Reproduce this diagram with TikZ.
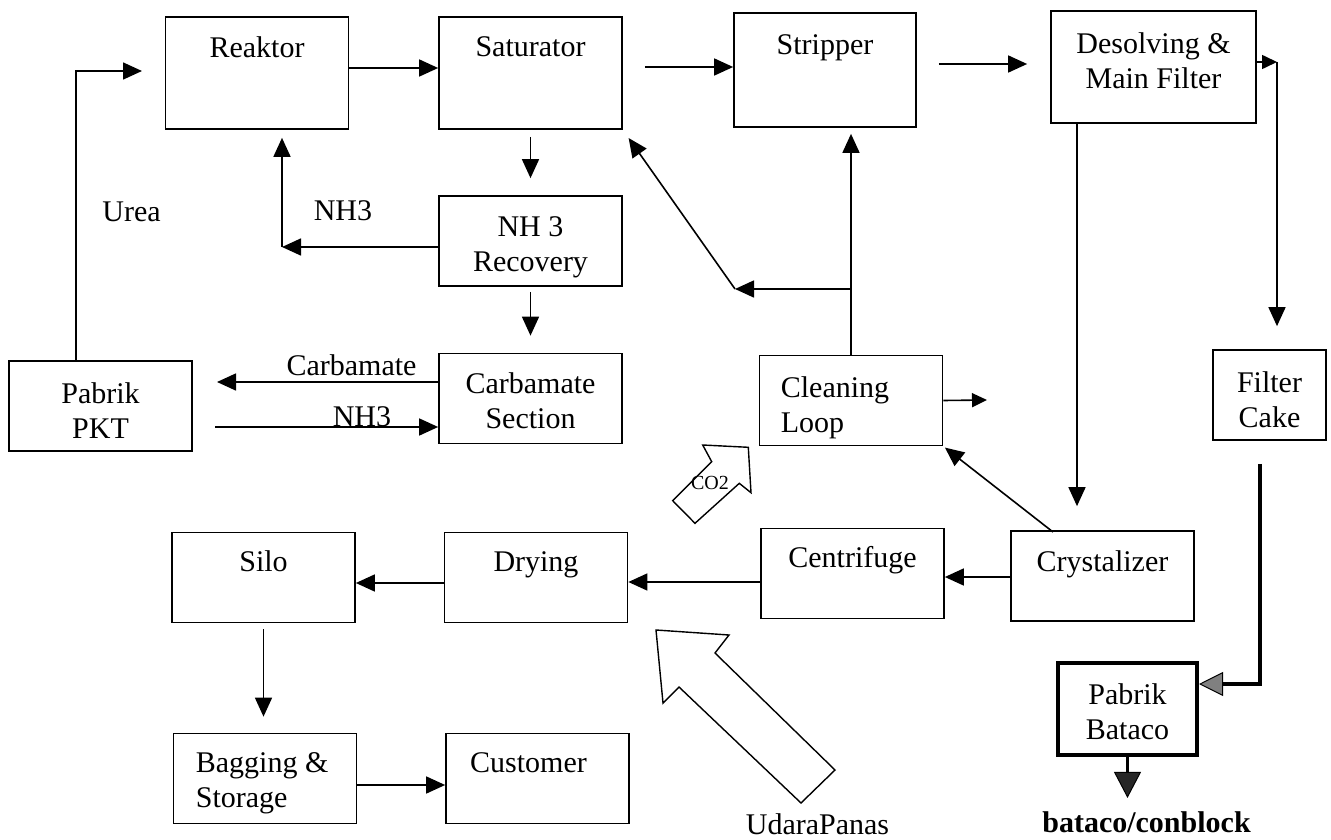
\documentclass[tikz,border=0pt]{standalone}
\usepackage{fontspec}
\setmainfont{Liberation Serif}
\usetikzlibrary{positioning}
\usetikzlibrary{calc}
\usetikzlibrary{arrows.meta}

\begin{document}
\begin{tikzpicture}[
      , x=1pt, y=-1pt
      , unitbox/.style={draw, line width=1.7pt, minimum width=183pt, minimum height=90pt, inner sep=0pt}
      , tall/.style={minimum height=112pt}
      , boxtext/.style={anchor=north, align=center, inner sep=0pt, yshift=-20pt, font=\fontsize{30}{35}\selectfont}
      , leftcap/.style={boxtext, anchor=north west, align=left, xshift=22pt}
      , lbl/.style={anchor=base, inner sep=0pt, font=\fontsize{30}{35}\selectfont}
      , flow/.style={->, line width=1.6pt}
      , small/.style={-{Triangle[length=15pt, width=14pt]}}
      , greytip/.style={-{Triangle[length=24pt, width=24pt, fill=gray, line width=1pt]}}
      , darktip/.style={-{Triangle[length=26pt, width=27pt, fill=black!85, line width=1pt]}}
      , on grid
      ]

      \tikzset{>={Triangle[length=19pt, width=17pt]}}
      \useasboundingbox (0,0) rectangle (1331,840);

      % top row
      \node[unitbox, tall, label={[boxtext]north:Reaktor}] (reaktor) at (257,73) {};
      \node[unitbox, tall, right = 273.5pt of reaktor, label={[boxtext]north:Saturator}] (saturator) {};
      \node[unitbox, tall, minimum width=182pt, minimum height=114pt, label={[boxtext, yshift=-2pt]north:Stripper}] (stripper) at (825,70) {};
      \node[unitbox, tall, minimum width=205pt, label={[boxtext, yshift=-2pt]north:Desolving \&\\Main Filter}] (desolving) at (1153.5,67) {};

      \node[unitbox, below = 168pt of saturator, label={[boxtext, yshift=-1pt]north:NH 3\\Recovery}] (nh3rec) {};
      \node[unitbox, below = 157.5pt of nh3rec, label={[boxtext]north:Carbamate\\Section}] (carbamate) {};
      \node[unitbox, label={[boxtext, yshift=-2pt]north:Pabrik\\PKT}] (pkt) at (100.5,406) {};
      \node[unitbox, label={[leftcap, yshift=-2pt]north west:Cleaning\\Loop}] (cleaning) at (851,400.5) {};
      \node[unitbox, minimum width=113pt, label={[boxtext, yshift=-2pt]north:Filter\\Cake}] (filtercake) at (1269.5,395) {};

      % bottom rows
      \node[unitbox, label={[boxtext, yshift=1pt]north:Silo}] (silo) at (263.5,577.5) {};
      \node[unitbox, right = 272.5pt of silo, label={[boxtext]north:Drying}] (drying) {};
      \node[unitbox, label={[boxtext, yshift=1pt]north:Centrifuge}] (centrifuge) at (852.5,573.5) {};
      \node[unitbox, label={[boxtext]north:Crystalizer}] (crystalizer) at (1102.5,576) {};
      \node[unitbox, label={[leftcap, xshift=1pt]north west:Bagging \&\\Storage}] (bagging) at (265,778.5) {};
      \node[unitbox, right = 272.5pt of bagging, label={[boxtext, xshift=-9pt]north:Customer}] (customer) {};
      \node[unitbox, line width=4pt, minimum width=139pt, minimum height=92pt, label={[boxtext, yshift=-2pt, align=center]north:Pabrik\\Bataco}] (bataco) at (1127.5,709) {};

      \coordinate (react-level) at (0,68);
      \coordinate (strip-level) at (0,67);
      \coordinate (dmf-level) at (0,64);
      \coordinate (cf-level) at (0,577);
      \coordinate (dry-level) at (0,582);
      \coordinate (silo-level) at (0,583);
      \coordinate (bag-level) at (0,785);

      \draw[flow] (reaktor.east |- react-level) -- (saturator.west |- react-level);
      \draw[flow, shorten <=22pt] (saturator.east |- strip-level) -- (stripper.west |- strip-level);
      \draw[flow, shorten <=22pt, shorten >=23pt] (stripper.east |- dmf-level) -- (desolving.west |- dmf-level);

      \coordinate (urea-top) at (76,71);
      \coordinate (urea-end) at (142,71);
      \draw[flow] (pkt.north -| urea-top) -- (urea-top) -- (urea-end);
      \node[lbl] (urea-lbl) at (131.5,222) {Urea};

      \coordinate (dmf-turn) at (1277,62);
      \draw[flow, small] (desolving.east |- dmf-turn) -- (dmf-turn);
      \draw[flow, shorten >=23pt] (dmf-turn) -- (dmf-turn |- filtercake.north);

      \draw[flow, shorten <=7pt, shorten >=17pt] (saturator.south) -- (nh3rec.north);
      \draw[flow, shorten <=5pt, shorten >=17pt] (nh3rec.south) -- (carbamate.north);

      \coordinate (nh3-turn) at (282,247);
      \draw[flow] (nh3rec.west |- nh3-turn) -- (nh3-turn);
      \draw[flow, shorten >=8pt] (nh3-turn) -- (nh3-turn |- reaktor.south);
      \node[lbl] (nh3-lbl) at (343,220) {NH3};

      \coordinate (carb-out) at (217,382);
      \draw[flow] (carbamate.west |- carb-out) -- (carb-out);
      \node[lbl] (carb-lbl) at (351.5,375) {Carbamate};
      \coordinate (nh3-in) at (215,427);
      \draw[flow] (nh3-in) -- (nh3-in -| carbamate.west);
      \node[lbl] (nh3b-lbl) at (362,426) {NH3};

      \coordinate (cl-turn) at (735,289);
      \draw[flow, shorten >=6pt] (cleaning.north) -- (cleaning.north |- stripper.south);
      \draw[flow] (cleaning.north |- cl-turn) -- (cl-turn);
      \draw[flow, shorten >=10pt] (cl-turn) -- (saturator.south east);
      \coordinate (cl-out) at (987,400);
      \draw[flow, small] (cleaning.east) -- (cl-out);

      \coordinate (dmf-drop) at (1077,123);
      \draw[flow, shorten >=24pt] (dmf-drop) -- (dmf-drop |- crystalizer.north);
      \coordinate (cr-top) at (1053,532);
      \draw[flow, shorten >=2pt] (cr-top) -- (cleaning.south east);

      \draw[flow] (crystalizer.west |- cf-level) -- (centrifuge.east |- cf-level);
      \draw[flow] (centrifuge.west |- dry-level) -- (drying.east |- dry-level);
      \draw[flow] (drying.west |- silo-level) -- (silo.east |- silo-level);
      \draw[flow, shorten <=6pt, shorten >=16pt] (silo.south) -- (silo.south |- bagging.north);
      \draw[flow] (bagging.east |- bag-level) -- (customer.west |- bag-level);

      \coordinate (fc-turn) at (1260,684);
      \draw[greytip, line width=4pt, shorten <=23pt] (fc-turn |- filtercake.south) -- (fc-turn) -- (fc-turn -| bataco.east);
      \node[lbl, font=\fontsize{30}{35}\selectfont\bfseries] (product) at (1146.5,832) {bataco/conblock};
      \draw[darktip, line width=2.5pt, shorten >=13pt] (bataco.south) -- (bataco.south |- product.north);

      % feed arrows
      \draw[line width=1.4pt] (702.7,445) -- (748.3,447.3) -- (751,492.7) -- (739.3,483.3) -- (695,523.3) -- (672.7,500.7) -- (711.7,461.7) -- cycle;
      \node[inner sep=0pt, font=\fontsize{20}{22}\selectfont] (co2-lbl) at (710,483) {CO2};
      \draw[line width=1.4pt] (656,630) -- (729,635) -- (715,653) -- (835,770) -- (801,803) -- (679,687) -- (663,703) -- cycle;
      \node[lbl] (udara-lbl) at (817.5,834) {UdaraPanas};
\end{tikzpicture}
\end{document}
